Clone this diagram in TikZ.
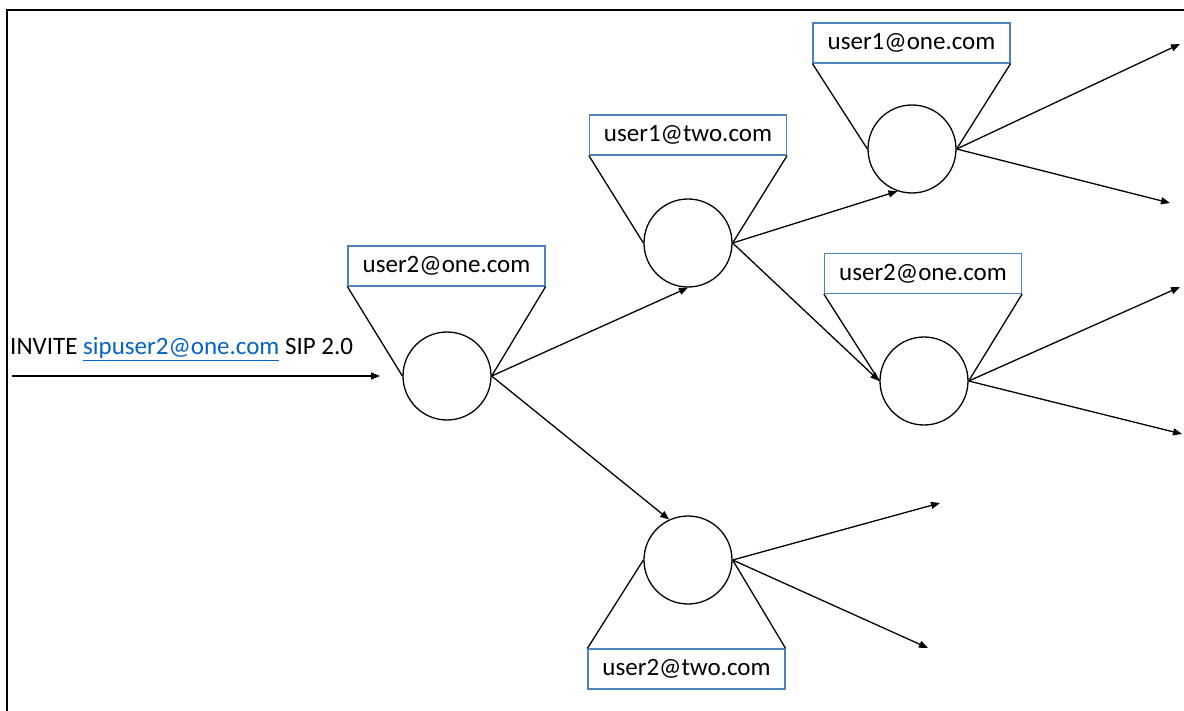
\documentclass[tikz,border=0pt]{standalone}
\usepackage{fontspec}
\setmainfont{Carlito}
\usetikzlibrary{arrows.meta}
\definecolor{boxblue}{HTML}{4F81BD}
\definecolor{linkblue}{HTML}{0563C1}
\begin{document}
\begin{tikzpicture}[x=1pt,y=-1pt,
  lbl/.style={draw=boxblue, line width=1.2pt, minimum width=197pt, minimum height=40pt, inner sep=0pt, font=\fontsize{25}{30}\selectfont},
  nd/.style={draw, circle, minimum size=88pt, inner sep=0pt, line width=1.3pt},
  ln/.style={line width=1.3pt},
  arr/.style={line width=1.3pt, -{Triangle[length=9pt,width=7pt]}}]
\useasboundingbox (0,0) rectangle (1184,711);
\draw[line width=2pt] (7,711) -- (7,10) -- (1184,10);

% input
\node[anchor=base west, inner sep=0pt, font=\fontsize{25}{30}\selectfont] (inv) at (10,355)
  {INVITE \textcolor{linkblue}{\underline{sipuser2@one.com}} SIP 2.0};
\coordinate (ins) at (12,376);
\coordinate (ine) at (380,376);
\draw[arr] (ins) -- (ine);

% nodes
\node[nd] (c1) at (447,376) {};
\node[lbl] (b1) at (446.5,266) {user2@one.com};
\node[nd] (c2) at (688,243) {};
\node[lbl] (b2) at (688,135) {user1@two.com};
\node[nd] (c3) at (912,149) {};
\node[lbl] (b3) at (911.5,43) {user1@one.com};
\node[nd] (c4) at (924,381) {};
\node[lbl] (b4) at (923,273.5) {user2@one.com};
\node[nd] (c5) at (688,560) {};
\node[lbl] (b5) at (686.5,669) {user2@two.com};

% cones
\foreach \c/\b in {c1/b1,c2/b2,c3/b3,c4/b4}{
  \draw[ln] (\b.south west) -- (\c.west);
  \draw[ln] (\b.south east) -- (\c.east);
}
\draw[ln] (b5.north west) -- (c5.west);
\draw[ln] (b5.north east) -- (c5.east);

% connectors
\draw[arr] (c1.east) -- (c2.south);
\draw[arr] (c2.east) -- (c3.251);
\draw[arr] (c2.east) -- (c4.west);
\draw[arr] (c1.east) -- (c5.115);

% free ends
\coordinate (o1) at (1180,44);
\coordinate (o2) at (1170,203);
\coordinate (o3) at (1180,287);
\coordinate (o4) at (1182,434);
\coordinate (o5) at (940,503);
\coordinate (o6) at (928,648);
\draw[arr] (c3.east) -- (o1);
\draw[arr] (c3.east) -- (o2);
\draw[arr] (c4.east) -- (o3);
\draw[arr] (c4.east) -- (o4);
\draw[arr] (c5.east) -- (o5);
\draw[arr] (c5.east) -- (o6);
\end{tikzpicture}
\end{document}
